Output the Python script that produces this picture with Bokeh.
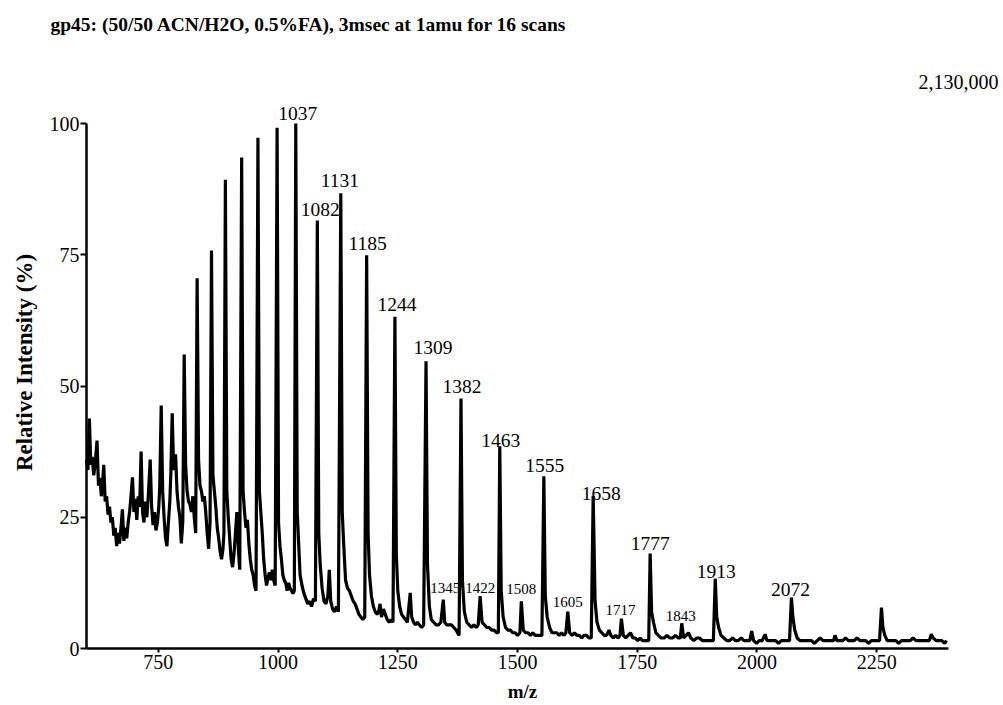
import math
import numpy as np
from bokeh.plotting import figure
from bokeh.models import Range1d, FixedTicker, ColumnDataSource, LabelSet, Label
from bokeh.embed import file_html
from bokeh.resources import INLINE

# ---------------- data ----------------
title_text = "gp45: (50/50 ACN/H2O, 0.5%FA), 3msec at 1amu for 16 scans"
scale_text = "2,130,000"
x_label = "m/z"
y_label = "Relative Intensity (%)"
x_ticks = [750, 1000, 1250, 1500, 1750, 2000, 2250]
y_ticks = [0, 25, 50, 75, 100]

# labelled charge-state peaks (m/z, relative intensity %)
major_mz = [1037, 1082, 1131, 1185, 1244, 1309, 1382, 1463, 1555, 1658, 1777, 1913, 2072]
major_int = [100, 81.5, 86.7, 74.9, 63.2, 54.7, 47.6, 38.5, 32.8, 29.1, 18.1, 13.3, 9.7]
# labelled minor peaks
minor_mz = [1345, 1422, 1508, 1605, 1717, 1843]
minor_int = [9.3, 10.0, 9.0, 7.0, 5.7, 4.8]
# unlabelled peaks
other_mz = [606, 622, 636, 675, 696, 714, 733, 756, 779, 786, 804, 831, 861, 890, 914,
            924, 958, 998, 1107, 1213, 1276, 1989, 2017, 2163, 2260, 2364]
other_int = [43.8, 39.6, 35, 26.5, 32.6, 37.5, 36, 46.3, 44.8, 37, 56, 70.5, 75.8, 89.3, 26,
             93.5, 97.3, 99.2, 15, 8.5, 10.6, 3.3, 2.7, 2.5, 7.8, 2.7]

# background / noise profile between peaks
bg_mz = [600, 603, 609, 612, 615, 618, 625, 628, 631, 633, 639, 642, 645, 648, 651, 654, 657,
         660, 663, 666, 669, 672, 678, 681, 684, 687, 690, 692, 699, 702, 705, 708, 711, 717,
         720, 723, 726, 729, 736, 739, 742, 745, 748, 751, 753, 759, 762, 765, 768, 771, 774,
         776, 782, 789, 792, 795, 798, 801, 807, 810, 813, 816, 819, 822, 825, 828, 834, 837,
         840, 843, 846, 849, 852, 855, 858, 864, 867, 870, 873, 876, 879, 882, 885, 887, 893,
         896, 899, 902, 905, 908, 911, 917, 920, 927, 930, 933, 936, 939, 942, 945, 948, 951,
         954, 961, 964, 967, 970, 973, 976, 979, 982, 985, 988, 991, 994, 1001, 1004, 1007,
         1010, 1013, 1016, 1019, 1022, 1025, 1028, 1031, 1034, 1040, 1043, 1046, 1050, 1054,
         1058, 1062, 1066, 1070, 1074, 1078, 1085, 1088, 1092, 1096, 1100, 1104, 1110, 1114,
         1118, 1122, 1126, 1134, 1137, 1141, 1145, 1149, 1153, 1157, 1161, 1165, 1169, 1173,
         1177, 1181, 1188, 1191, 1195, 1199, 1203, 1207, 1210, 1216, 1220, 1224, 1228, 1232,
         1236, 1240, 1247, 1250, 1254, 1258, 1262, 1266, 1270, 1279, 1283, 1287, 1291, 1295,
         1300, 1304, 1312, 1316, 1320, 1325, 1330, 1335, 1340, 1348, 1352, 1357, 1362, 1367,
         1372, 1378, 1385, 1389, 1394, 1399, 1404, 1409, 1414, 1418, 1426, 1431, 1436, 1441,
         1446, 1451, 1456, 1460, 1466, 1470, 1475, 1480, 1485, 1490, 1495, 1500, 1505, 1512,
         1517, 1522, 1527, 1532, 1537, 1542, 1547, 1551, 1558, 1562, 1567, 1572, 1577, 1582,
         1587, 1592, 1597, 1601, 1609, 1614, 1619, 1624, 1629, 1634, 1639, 1644, 1649, 1654,
         1662, 1666, 1671, 1676, 1681, 1686, 1691, 1695, 1700, 1705, 1710, 1714, 1721, 1726,
         1731, 1736, 1741, 1746, 1751, 1756, 1761, 1766, 1771, 1774, 1780, 1784, 1789, 1794,
         1800, 1806, 1812, 1818, 1824, 1830, 1836, 1840, 1847, 1852, 1857, 1862, 1868, 1874,
         1880, 1886, 1892, 1898, 1904, 1909, 1916, 1920, 1925, 1931, 1937, 1943, 1949, 1955,
         1961, 1967, 1973, 1979, 1985, 1993, 1999, 2005, 2011, 2021, 2027, 2033, 2039, 2045,
         2051, 2057, 2063, 2068, 2075, 2079, 2084, 2090, 2096, 2102, 2108, 2114, 2120, 2126,
         2132, 2138, 2144, 2150, 2156, 2160, 2167, 2173, 2179, 2185, 2191, 2197, 2203, 2209,
         2215, 2221, 2227, 2233, 2239, 2245, 2251, 2256, 2263, 2267, 2272, 2278, 2284, 2290,
         2296, 2302, 2308, 2314, 2320, 2326, 2332, 2338, 2344, 2350, 2356, 2360, 2368, 2374,
         2380, 2386, 2392, 2396]
bg_int = [36, 34, 35, 36.5, 33, 35, 31, 32.5, 29, 30.5, 28, 29, 25.5, 27, 24, 25, 21.5,
          23, 19.5, 22, 20, 23, 20.5, 23, 21, 24, 26, 28, 26, 28.5, 24.5, 29, 27, 26,
          24, 28, 25, 29, 27, 23.5, 26, 22.5, 24, 27, 31, 30, 25, 21, 19.5, 24, 28,
          33, 34, 30, 27, 25, 20, 24, 35, 30, 28, 27.5, 26, 29, 25, 22, 36, 31,
          30, 28, 29, 26, 22, 19, 24, 33, 30, 27, 23, 21, 18.5, 17, 19, 22, 30,
          25, 21, 17, 15.5, 18, 22, 19, 15, 30, 26, 23, 24.5, 20, 17, 15, 14, 12,
          11, 30, 26, 22, 17, 14, 12, 13.5, 14.5, 13, 15, 13, 12, 24, 19.5, 17,
          14, 13, 12.5, 11, 12.5, 11.5, 11, 10.5, 11, 26, 20, 14, 12, 10.5,
          9.5, 8.5, 9, 8, 9.5, 9, 22, 16, 11.5, 9, 8.5, 10, 9, 7.5,
          7, 8, 7, 26, 20, 13, 11.5, 11, 10, 9, 8.5, 7.5, 6.5, 6,
          5.5, 6, 22, 14, 10, 8, 7, 6.5, 7, 6, 7.5, 6.5, 5.5, 5,
          5.5, 5, 18, 11, 8, 6.5, 6, 5.5, 5, 6, 5, 4.5, 5, 4.5,
          4, 4.5, 16, 8, 5.5, 5, 4.5, 4.5, 5, 5, 4.5, 4.5, 4.5, 4,
          3.5, 2.5, 13, 7, 5, 4.5, 4, 4.5, 4, 4.5, 5, 4.5, 4, 4,
          3.5, 3.5, 3, 3, 11, 6, 4, 3.5, 3.5, 3, 3, 2.5, 3, 3.5,
          3, 3, 2.5, 3, 2.5, 2.5, 2.5, 2.5, 10, 6, 4, 3, 3, 3,
          2.5, 3, 2.5, 3, 3, 2.5, 3, 2.5, 2.5, 2, 2.5, 2.5, 2, 2,
          9, 5, 3.5, 3, 2.5, 2.5, 3.5, 2.5, 2, 2.5, 2, 2.5, 2.5, 2,
          2.5, 3, 2, 2, 1.5, 2, 1.5, 1.5, 1.5, 1.5, 7, 5, 3, 2.5,
          2, 2, 2.5, 2, 2, 2.5, 2, 2, 2, 2.5, 3, 2, 1.5, 2,
          2, 1.5, 1.5, 1.5, 1.5, 1.5, 6, 4, 2.5, 2, 1.5, 1.5, 2, 1.5,
          1.5, 2, 1.5, 1.5, 1.5, 1.5, 1, 1.5, 1.5, 1.5, 1.5, 1.5, 1.5, 1,
          1.5, 1.5, 1.5, 1.5, 6, 3.5, 2, 1.5, 1.5, 1.5, 1.5, 1.5, 1, 1.5,
          2, 1.5, 1.5, 1.5, 1.5, 1.5, 1.5, 1.5, 1.5, 2, 1.5, 1.5, 1.5, 2,
          1.5, 1.5, 1.5, 1, 1.5, 1.5, 1.5, 1.5, 4, 2.5, 1.5, 1.5, 1.5, 1.5,
          1, 1.5, 1.5, 1.5, 1.5, 2, 1.5, 1.5, 1.5, 1.5, 1.5, 1.5, 2, 1.5,
          1.5, 1.5, 1, 1.5]

# ---------------- styles / layout ----------------
SERIF = "Liberation Serif"
W, H = 1003, 705
AX_L, AX_R, AX_T, AX_B = 86, 948, 123, 648          # pixel box of the axes
X0, X1, Y0, Y1 = 600, 2400, 0, 100                   # data limits of the axes
major_dx = [2, 3, -1, 1, 2, 7, 1, 1, 1, 8, 0, 1, -1]
major_dy = [4, 5, 6, 5, 6, 7, 6, -1, 4, -4, 3, 1, 2]
minor_dx = [2, 0, 0, 0, -1, -1]
minor_dy = [7, 3, 7, 5, 4, 2]

kx = (X1 - X0) / (AX_R - AX_L)
ky = (Y1 - Y0) / (AX_B - AX_T)

def dx_(px):
    return X0 + (px - AX_L) * kx

def dy_(py):
    return Y0 + (AX_B - py) * ky

# merge background and peak apexes into one profile
all_mz = np.array(bg_mz + major_mz + minor_mz + other_mz, dtype=float)
all_int = np.array(bg_int + major_int + minor_int + other_int, dtype=float)
order = np.argsort(all_mz, kind="stable")
trace_src = ColumnDataSource(dict(x=all_mz[order], y=all_int[order]))

p = figure(width=W, height=H,
           x_range=Range1d(dx_(0), dx_(W)), y_range=Range1d(dy_(H), dy_(0)),
           output_backend="svg", toolbar_location=None, min_border=0)
p.outline_line_color = None
p.grid.visible = False
p.background_fill_color = "white"
p.border_fill_color = "white"

p.line("x", "y", source=trace_src, line_color="black", line_width=3.2)

for ax in (p.xaxis[0], p.yaxis[0]):
    ax.axis_line_width = 2.5
    ax.axis_line_color = "black"
    ax.major_tick_line_color = "black"
    ax.major_tick_line_width = 2
    ax.major_tick_in = 0
    ax.minor_tick_line_color = None
    ax.major_label_text_font = SERIF
    ax.major_label_text_font_size = "20px"
    ax.major_label_text_color = "black"
p.xaxis.ticker = FixedTicker(ticks=x_ticks)
p.yaxis.ticker = FixedTicker(ticks=y_ticks)
p.xaxis.fixed_location = Y0
p.yaxis.fixed_location = X0
p.xaxis.bounds = (X0, X1)
p.yaxis.bounds = (Y0, Y1)
p.xaxis.major_tick_out = 4
p.xaxis.major_label_standoff = 2
p.yaxis.major_tick_out = 6
p.yaxis.major_label_standoff = 1

# peak labels
major_src = ColumnDataSource(dict(x=major_mz, y=major_int, t=[str(m) for m in major_mz],
                                  dx=major_dx, dy=major_dy))
minor_src = ColumnDataSource(dict(x=minor_mz, y=minor_int, t=[str(m) for m in minor_mz],
                                  dx=minor_dx, dy=minor_dy))
p.add_layout(LabelSet(x="x", y="y", text="t", source=major_src, x_offset="dx", y_offset="dy",
                      text_font=SERIF, text_font_size="19.5px", text_align="center",
                      text_baseline="alphabetic", text_color="black"))
p.add_layout(LabelSet(x="x", y="y", text="t", source=minor_src, x_offset="dx", y_offset="dy",
                      text_font=SERIF, text_font_size="15px", text_align="center",
                      text_baseline="alphabetic", text_color="black"))

p.add_layout(Label(x=dx_(50), y=dy_(24), text=title_text, text_font=SERIF,
                   text_font_size="19.5px", text_font_style="bold", text_align="left",
                   text_baseline="middle", text_color="black"))
p.add_layout(Label(x=dx_(998), y=dy_(81), text=scale_text, text_font=SERIF,
                   text_font_size="20px", text_align="right", text_baseline="middle",
                   text_color="black"))
p.add_layout(Label(x=dx_(24), y=dy_(362), text=y_label, angle=math.pi / 2, text_font=SERIF,
                   text_font_size="23px", text_font_style="bold", text_align="center",
                   text_baseline="middle", text_color="black"))
p.add_layout(Label(x=dx_(522), y=dy_(691), text=x_label, text_font=SERIF,
                   text_font_size="19px", text_font_style="bold", text_align="center",
                   text_baseline="middle", text_color="black"))

open("out.html", "w").write(file_html(p, INLINE))
